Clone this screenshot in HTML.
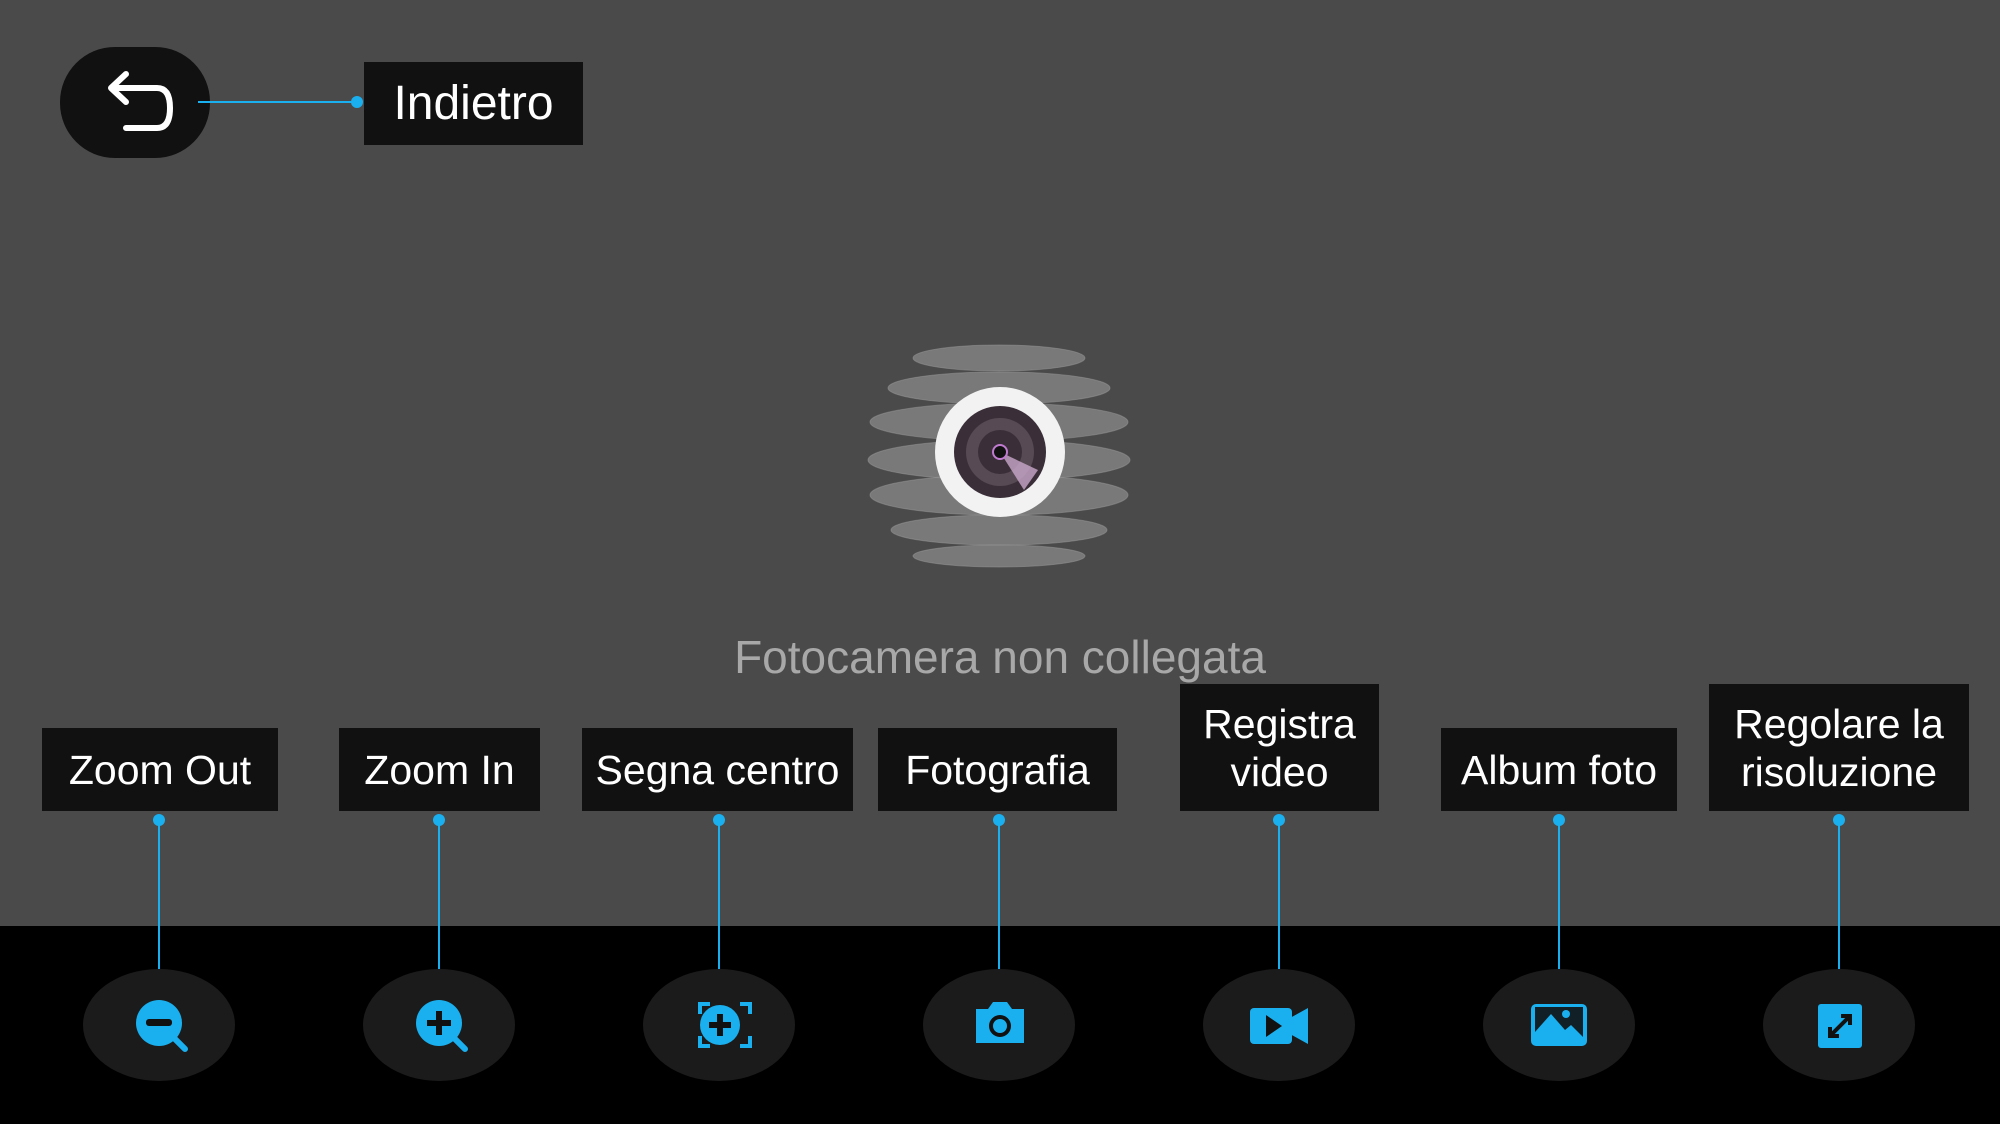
<!DOCTYPE html>
<html><head><meta charset="utf-8"><style>
html,body{margin:0;padding:0}
body{width:2000px;height:1124px;position:relative;overflow:hidden;background:#4a4a4a;font-family:"Liberation Sans","DejaVu Sans",sans-serif}
.bar{position:absolute;left:0;top:926px;width:2000px;height:198px;background:#000}
.lbl{position:absolute;background:#111;color:#fff;font-size:41px;display:flex;align-items:center;justify-content:center;text-align:center;line-height:48px}
.msg{position:absolute;left:600px;width:800px;top:630px;text-align:center;color:#a8a8a8;font-size:46px}
svg{position:absolute;left:0;top:0}
</style></head><body>
<div class="bar"></div>
<svg width="2000" height="1124" viewBox="0 0 2000 1124">
 <rect x="60" y="47" width="150" height="111" rx="55" fill="#111"/>
 <path d="M113 88 L157 88 Q170 88 170 108 Q170 128 157 128 L126 128" fill="none" stroke="#fff" stroke-width="6" stroke-linecap="round"/>
 <path d="M126 74 L111 88 L126 102" fill="none" stroke="#fff" stroke-width="6" stroke-linecap="round" stroke-linejoin="round"/>
 <line x1="198" y1="102" x2="357" y2="102" stroke="#1ab0ef" stroke-width="2"/>
 <circle cx="357" cy="102" r="6" fill="#1ab0ef"/>
 <g fill="#8a8a8a" fill-opacity="0.75" stroke="#9a9a9a" stroke-opacity="0.5">
  <ellipse cx="999" cy="358" rx="86" ry="13"/>
  <ellipse cx="999" cy="388" rx="111" ry="16"/>
  <ellipse cx="999" cy="422" rx="129" ry="19"/>
  <ellipse cx="999" cy="460" rx="131" ry="20"/>
  <ellipse cx="999" cy="495" rx="129" ry="20"/>
  <ellipse cx="999" cy="530" rx="108" ry="15"/>
  <ellipse cx="999" cy="556" rx="86" ry="11"/>
 </g>
 <circle cx="1000" cy="452" r="65" fill="#f2f2f2"/>
 <circle cx="1000" cy="452" r="46" fill="#3a2f38"/>
 <circle cx="1000" cy="452" r="34" fill="#574a55"/>
 <circle cx="1000" cy="452" r="22" fill="#3a2f38"/>
 <path d="M1000 452 L1038 470 L1024 490 Z" fill="#c9a7c9" opacity="0.8"/>
 <circle cx="1000" cy="452" r="7" fill="#111" stroke="#c07ad0" stroke-width="2"/>
 <g stroke="#1ab0ef" stroke-width="2">
  <line x1="159" y1="820" x2="159" y2="982"/>
  <line x1="439" y1="820" x2="439" y2="982"/>
  <line x1="719" y1="820" x2="719" y2="982"/>
  <line x1="999" y1="820" x2="999" y2="982"/>
  <line x1="1279" y1="820" x2="1279" y2="982"/>
  <line x1="1559" y1="820" x2="1559" y2="982"/>
  <line x1="1839" y1="820" x2="1839" y2="982"/>
 </g>
 <g fill="#1ab0ef">
  <circle cx="159" cy="820" r="6"/><circle cx="439" cy="820" r="6"/><circle cx="719" cy="820" r="6"/>
  <circle cx="999" cy="820" r="6"/><circle cx="1279" cy="820" r="6"/><circle cx="1559" cy="820" r="6"/><circle cx="1839" cy="820" r="6"/>
 </g>
 <g fill="#1b1b1b">
  <ellipse cx="159" cy="1025" rx="76" ry="56"/><ellipse cx="439" cy="1025" rx="76" ry="56"/>
  <ellipse cx="719" cy="1025" rx="76" ry="56"/><ellipse cx="999" cy="1025" rx="76" ry="56"/>
  <ellipse cx="1279" cy="1025" rx="76" ry="56"/><ellipse cx="1559" cy="1025" rx="76" ry="56"/>
  <ellipse cx="1839" cy="1025" rx="76" ry="56"/>
 </g>
 <g fill="#1ab0ef">
  <circle cx="159" cy="1023" r="23"/><line x1="173" y1="1037" x2="185" y2="1049" stroke="#1ab0ef" stroke-width="6" stroke-linecap="round"/>
  <rect x="146" y="1019" width="26" height="7" rx="3" fill="#111"/>
  <circle cx="439" cy="1023" r="23"/><line x1="453" y1="1037" x2="465" y2="1049" stroke="#1ab0ef" stroke-width="6" stroke-linecap="round"/>
  <rect x="427" y="1020" width="24" height="6" fill="#111"/><rect x="436" y="1011" width="6" height="24" fill="#111"/>
  <circle cx="720" cy="1025" r="20"/>
  <rect x="709" y="1022" width="22" height="6" fill="#111"/><rect x="717" y="1014" width="6" height="22" fill="#111"/>
  <path d="M700 1014 v-10 h10 M740 1004 h10 v10 M750 1036 v10 h-10 M710 1046 h-10 v-10" fill="none" stroke="#1ab0ef" stroke-width="4"/>
  <path d="M976 1009 h12 l5 -7 h14 l5 7 h12 v34 h-48 z"/>
  <circle cx="1000" cy="1026" r="11" fill="#111"/><circle cx="1000" cy="1026" r="7"/>
  <rect x="1250" y="1008" width="42" height="36" rx="4"/><path d="M1290 1018 l18 -10 v36 l-18 -10 z"/>
  <path d="M1266 1015 l16 11 l-16 11 z" fill="#111"/>
  <rect x="1531" y="1004" width="56" height="42" rx="5"/>
  <path d="M1535 1032 l16 -18 l14 16 l6 -5 l12 12 v-20 h-0 v-10 h-48 z" fill="#111" opacity="0.9"/>
  <path d="M1537 1040 l14 -18 l14 16 l6 -5 l12 10 v-2 z"/>
  <circle cx="1566" cy="1014" r="4"/>
  <rect x="1818" y="1004" width="44" height="44" rx="3"/>
  <path d="M1830 1036 l20 -20 M1841 1016 h9 v9 M1830 1027 v9 h9" fill="none" stroke="#111" stroke-width="4"/>
 </g>
</svg>
<div class="lbl" style="left:364px;top:62px;width:219px;height:83px;font-size:48px">Indietro</div>
<div class="msg">Fotocamera non collegata</div>
<div class="lbl" style="left:42px;top:728px;width:236px;height:83px">Zoom Out</div>
<div class="lbl" style="left:339px;top:728px;width:201px;height:83px">Zoom In</div>
<div class="lbl" style="left:582px;top:728px;width:271px;height:83px">Segna centro</div>
<div class="lbl" style="left:878px;top:728px;width:239px;height:83px">Fotografia</div>
<div class="lbl" style="left:1180px;top:684px;width:199px;height:127px">Registra<br>video</div>
<div class="lbl" style="left:1441px;top:728px;width:236px;height:83px">Album foto</div>
<div class="lbl" style="left:1709px;top:684px;width:260px;height:127px">Regolare la<br>risoluzione</div>
</body></html>
